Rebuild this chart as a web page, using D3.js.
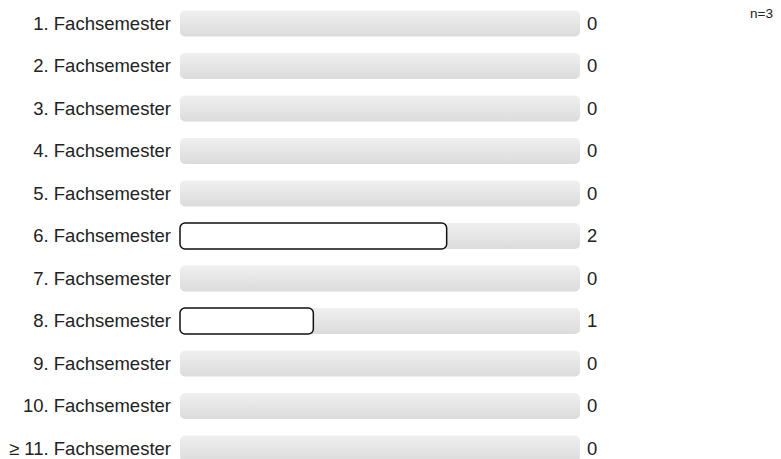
<!DOCTYPE html>
<html>
<head>
<meta charset="utf-8">
<script src="https://cdn.jsdelivr.net/npm/d3@7"></script>
<style>
  body { margin: 0; background: #fff; }
  text { font-family: "Liberation Sans", Arial, sans-serif; fill: #222; }
</style>
</head>
<body>
<div id="chart"></div>
<script>
// data
var categories = ["1. Fachsemester", "2. Fachsemester", "3. Fachsemester", "4. Fachsemester",
  "5. Fachsemester", "6. Fachsemester", "7. Fachsemester", "8. Fachsemester",
  "9. Fachsemester", "10. Fachsemester", "\u2265 11. Fachsemester"];
var counts = [0, 0, 0, 0, 0, 2, 0, 1, 0, 0, 0];
var total = 3;

var width = 781, height = 459;

var svg = d3.select("#chart").append("svg")
  .attr("width", width)
  .attr("height", height);

// track gradient
var grad = svg.append("defs").append("linearGradient")
  .attr("id", "track")
  .attr("x1", 0).attr("y1", 0).attr("x2", 0).attr("y2", 1);
grad.append("stop").attr("offset", "0%").attr("stop-color", "#f0f0f0");
grad.append("stop").attr("offset", "100%").attr("stop-color", "#dbdbdb");

var x = d3.scaleLinear().domain([0, total]).range([180, 580]);
var y = d3.scalePoint().domain(categories).range([23.5, 448.5]);
var barH = 26;

var rows = svg.selectAll(".row")
  .data(categories)
  .enter().append("g")
  .attr("class", "row")
  .attr("transform", d => "translate(0," + y(d) + ")");

// background track
rows.append("rect")
  .attr("x", x(0))
  .attr("y", -barH / 2)
  .attr("width", x(total) - x(0))
  .attr("height", barH)
  .attr("rx", 5)
  .attr("fill", "url(#track)");

// value bars (only where count > 0)
rows.filter((d, i) => counts[i] > 0).append("rect")
  .attr("x", x(0))
  .attr("y", -barH / 2)
  .attr("width", d => x(counts[categories.indexOf(d)]) - x(0))
  .attr("height", barH)
  .attr("rx", 5)
  .attr("fill", "#fff")
  .attr("stroke", "#111")
  .attr("stroke-width", 1.5);

// category labels
rows.append("text")
  .attr("x", 171)
  .attr("dy", "0.35em")
  .attr("text-anchor", "end")
  .style("font-size", "18.5px")
  .text(d => d);

// count labels
rows.append("text")
  .attr("x", 587)
  .attr("dy", "0.35em")
  .style("font-size", "18.5px")
  .text((d, i) => counts[i]);

// n
svg.append("text")
  .attr("x", 773)
  .attr("y", 17.5)
  .attr("text-anchor", "end")
  .style("font-size", "13.5px")
  .text("n=" + total);
</script>
</body>
</html>
